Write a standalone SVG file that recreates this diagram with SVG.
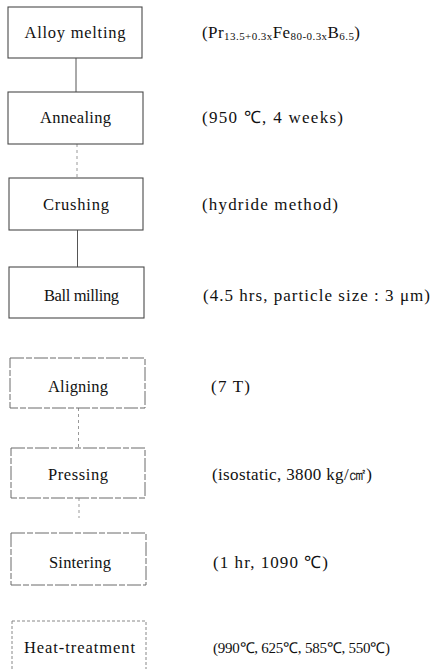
<svg xmlns="http://www.w3.org/2000/svg" width="432" height="669" viewBox="0 0 432 669">
<style>
.bg{fill:#fff}
.box{fill:none;stroke:#4a4a4a;stroke-width:1.1}
.box2{fill:none;stroke:#6a6a6a;stroke-width:1;stroke-dasharray:14 2 6 2}
.box3{fill:none;stroke:#888;stroke-width:1;stroke-dasharray:3 2}
.conn{stroke:#555;stroke-width:1;fill:none}
.connf{stroke:#999;stroke-width:1;fill:none;stroke-dasharray:3 3}
.lbl{font-family:"Liberation Serif","Times New Roman",serif;font-size:16.5px;fill:#111;text-anchor:middle}
.note{font-family:"Liberation Serif","Times New Roman",serif;font-size:17px;fill:#111}
.sub{font-size:11px}
.small{font-size:15px}
</style>
<rect class="bg" x="0" y="0" width="432" height="669"/>
<g id="connectors">
<line class="conn" x1="76" y1="58" x2="76" y2="92"/>
<line class="connf" x1="77" y1="144" x2="77" y2="178"/>
<line class="conn" x1="77.5" y1="230" x2="77.5" y2="267"/>
<line class="connf" x1="78.5" y1="408" x2="78.5" y2="448"/>
<line class="connf" x1="79" y1="498" x2="79" y2="518"/>
</g>
<g id="alloy-melting">
<rect class="box" x="8" y="7" width="134" height="51"/>
<text class="lbl" x="75" y="38" textLength="101" lengthAdjust="spacing">Alloy melting</text>
<text class="note" x="202" y="38" textLength="158" lengthAdjust="spacing">(Pr<tspan class="sub" dy="2">13.5+0.3x</tspan><tspan dy="-2">Fe</tspan><tspan class="sub" dy="2">80-0.3x</tspan><tspan dy="-2">B</tspan><tspan class="sub" dy="2">6.5</tspan><tspan dy="-2">)</tspan></text>
</g>
<g id="annealing">
<rect class="box" x="8" y="92" width="135" height="52"/>
<text class="lbl" x="75.5" y="123" textLength="71" lengthAdjust="spacing">Annealing</text>
<text class="note" x="202" y="123" textLength="141" lengthAdjust="spacing">(950 ℃, 4 weeks)</text>
</g>
<g id="crushing">
<rect class="box" x="9" y="178" width="134" height="52"/>
<text class="lbl" x="76" y="210" textLength="66" lengthAdjust="spacing">Crushing</text>
<text class="note" x="202" y="210" textLength="136" lengthAdjust="spacing">(hydride method)</text>
</g>
<g id="ball-milling">
<rect class="box" x="9" y="267" width="135" height="51"/>
<text class="lbl" x="81.5" y="301" textLength="75" lengthAdjust="spacing">Ball milling</text>
<text class="note" x="203" y="301" textLength="227" lengthAdjust="spacing">(4.5 hrs, particle size : 3 μm)</text>
</g>
<g id="aligning">
<rect class="box2" x="10" y="358" width="135" height="50"/>
<text class="lbl" x="78" y="392" textLength="60" lengthAdjust="spacing">Aligning</text>
<text class="note" x="211" y="392" textLength="39" lengthAdjust="spacing">(7 T)</text>
</g>
<g id="pressing">
<rect class="box2" x="11" y="448" width="134" height="50"/>
<text class="lbl" x="78" y="480" textLength="60" lengthAdjust="spacing">Pressing</text>
<text class="note" x="212" y="480" textLength="160" lengthAdjust="spacing">(isostatic, 3800 kg/㎠)</text>
</g>
<g id="sintering">
<rect class="box2" x="11" y="533" width="135" height="52"/>
<text class="lbl" x="80" y="568" textLength="62" lengthAdjust="spacing">Sintering</text>
<text class="note" x="213" y="568" textLength="115" lengthAdjust="spacing">(1 hr, 1090 ℃)</text>
</g>
<g id="heat-treatment">
<rect class="box3" x="12" y="621" width="134" height="70"/>
<text class="lbl" x="79.5" y="653" textLength="111" lengthAdjust="spacing">Heat-treatment</text>
<text class="note small" x="213" y="653" textLength="177" lengthAdjust="spacing">(990℃, 625℃, 585℃, 550℃)</text>
</g>
</svg>
